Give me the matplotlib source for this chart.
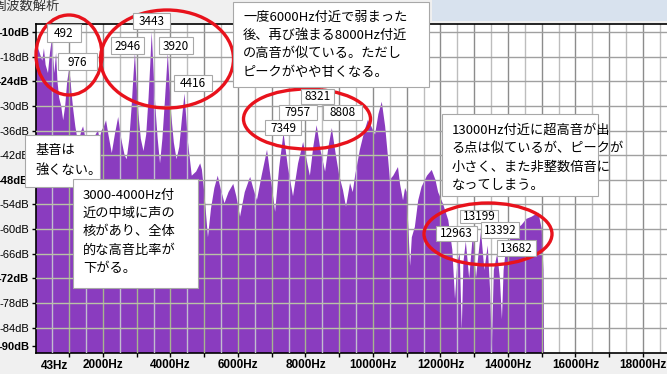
"""Frequency analysis screenshot (Audacity style) with Japanese annotations."""
import numpy as np
import matplotlib
matplotlib.use("Agg")
import matplotlib.pyplot as plt
from matplotlib.patches import Rectangle, Ellipse, Polygon

W, H = 667, 374
JP = ["Noto Sans CJK JP", "DejaVu Sans"]
PURPLE = "#8a3cbf"
RED = "#e8121c"

# spectrum outline (Hz, dB)
freq = [0, 40, 120, 200, 250, 300, 370, 430, 480, 520, 560, 610, 650, 700, 760, 820,
        880, 940, 1000, 1040, 1070, 1120, 1180, 1220, 1300, 1360, 1410, 1460, 1530,
        1610, 1700, 1780, 1850, 1900, 1960, 2030, 2090, 2160, 2260, 2350, 2450, 2540,
        2640, 2700, 2780, 2850, 2900, 2946, 2990, 3050, 3120, 3200, 3280, 3350, 3400,
        3443, 3490, 3550, 3620, 3690, 3760, 3840, 3885, 3920, 3960, 4020, 4100, 4180,
        4260, 4340, 4390, 4416, 4450, 4520, 4630, 4760, 4880, 4930, 5000, 5110, 5200,
        5300, 5400, 5480, 5600, 5720, 5860, 5950, 6060, 6200, 6360, 6450, 6560, 6700,
        6860, 6960, 7100, 7220, 7349, 7480, 7630, 7780, 7930, 8030, 8130, 8230, 8330,
        8450, 8580, 8680, 8780, 8900, 9000, 9110, 9200, 9320, 9400, 9470, 9610, 9750,
        9850, 9950, 10060, 10160, 10260, 10360, 10450, 10500, 10600, 10740, 10800,
        10890, 10950, 11000, 11100, 11150, 11240, 11340, 11440, 11600, 11740, 11850,
        11930, 12080, 12230, 12350, 12430, 12500, 12570, 12630, 12680, 12750, 12850,
        12963, 13050, 13200, 13300, 13400, 13470, 13520, 13580, 13682, 13760, 13820,
        13870, 13950, 14100, 14250, 14400, 14550, 14700, 14900, 15000, 15050, 15070]
level = [-15.5, -15, -17, -19, -16, -20, -22, -17, -14, -18, -22, -17, -24, -28, -30,
         -33.5, -30, -24, -21, -24, -27, -31, -35, -37, -38, -36, -35, -37, -39, -38.5,
         -39, -37, -36, -38, -36, -35, -33.5, -37, -41.5, -37, -32.7, -38, -42, -43,
         -38, -30, -23, -17, -24, -32, -38, -41, -37, -28, -20, -12, -20, -30, -38, -44,
         -38, -28, -22, -17, -23, -32, -39, -43, -40, -33, -29, -27, -31, -39, -47, -46,
         -44, -45.5, -51, -62, -55, -50, -47, -50, -53.7, -51, -49, -52, -57, -51,
         -47.3, -50, -53, -47, -40.7, -47, -55.8, -45, -36.6, -45, -52, -44, -38.8,
         -43, -47, -40, -34.7, -41, -46, -40, -35.4, -42, -47, -50.5, -54.6, -48.8,
         -51, -47, -40.7, -36, -33.4, -35, -37, -32, -29, -35, -43, -48, -47, -44.9,
         -49, -53, -50, -51, -69, -62, -59.5, -53, -49.7, -47, -45.6, -48, -51, -54,
         -57.8, -65, -77, -68, -65.9, -84.6, -68, -63, -72, -61, -72, -60.5, -70, -64,
         -75, -89.5, -70, -66, -72, -82, -70, -64, -62, -60, -59, -57.5, -57, -56, -60,
         -70, -91]

y_ticks = [-12, -18, -24, -30, -36, -42, -48, -54, -60, -66, -72, -78, -84, -88.4]
y_labels = ["-10dB", "-18dB", "-24dB", "-30dB", "-36dB", "-42dB", "-48dB", "-54dB",
            "-60dB", "-66dB", "-72dB", "-78dB", "-84dB", "-90dB"]
y_bold = ["-10dB", "-24dB", "-48dB", "-72dB", "-90dB"]
x_ticks = list(range(1000, 18001, 1000))
x_labels = [f"{v}Hz" if v % 2000 == 0 else "" for v in x_ticks]
x_first_label = "43Hz"

peak_labels = ["492", "976", "2946", "3443", "3920", "4416", "8321", "7349", "7957",
               "8808", "13199", "12963", "13392", "13682"]
peak_boxes = [(47, 24, 81, 42), (58, 53, 97, 70), (111, 37, 144, 54), (133, 13, 170, 29),
              (159, 37, 193, 54), (174, 75, 212, 91), (301, 89, 334, 104),
              (265, 120, 301, 135), (279, 105, 317, 120), (323, 105, 362, 120),
              (460, 210, 498, 223), (436, 226, 477, 241), (481, 222, 519, 238),
              (497, 240, 536, 256)]

notes = [
    ["基音は", "強くない。"],
    ["3000-4000Hz付", "近の中域に声の", "核があり、全体", "的な高音比率が", "下がる。"],
    ["一度6000Hz付近で弱まった", "後、再び強まる8000Hz付近", "の高音が似ている。ただし",
     "ピークがやや甘くなる。"],
    ["13000Hz付近に超高音が出", "る点は似ているが、ピークが", "小さく、また非整数倍音に",
     "なってしまう。"],
]
note_boxes = [(25, 135, 100, 187), (73, 179, 198, 288), (233, 2, 429, 87), (442, 114, 598, 196)]
note_first_line = [150, 195, 17, 130]
note_step = [20, 18.4, 18.4, 18.6]

circles = [(69, 55, 66, 80), (167, 59, 133, 98), (307, 119, 127, 60), (488, 234, 128, 62)]


def fx(px):
    return px / W


def fy(py):
    return 1 - py / H


fig = plt.figure(figsize=(W / 100, H / 100), dpi=100, facecolor="#f0f0f0")
fig.add_artist(Rectangle((fx(432), fy(21)), (W - 432) / W, 21 / H, transform=fig.transFigure,
                         fc="#d8e2ee", ec="none", zorder=0))
fig.text(fx(-6), fy(6), "周波数解析", fontsize=9.5, family=JP, color="#333333",
         ha="left", va="center")

ax = fig.add_axes([fx(35.5), fy(353), (W - 35.5) / W, (353 - 24) / H])
ax.set_facecolor("white")
ax.set_xlim(0, (W - 35.5) / 33.75 * 1000)
ax.set_ylim(-90.2, -10.05)

# grid under the spectrum
for x in np.arange(500, 18600, 500):
    ax.axvline(x, color="#8c8c8c" if x % 1000 == 0 else "#bdbdbd", lw=1, zorder=1)
for y in y_ticks[:-1]:
    ax.axhline(y, color="#a0a0a0", lw=1, zorder=1)

verts = [(0, -100)] + list(zip(freq, level)) + [(freq[-1], -100)]
spec = Polygon(verts, closed=True, fc=PURPLE, ec="none", zorder=2)
ax.add_patch(spec)

# grid lines seen through the purple fill
for x in np.arange(500, 18600, 500):
    ln = ax.axvline(x, color="#a6b58f" if x % 1000 == 0 else "#c2bccf", lw=1, zorder=3)
    ln.set_clip_path(spec)
for y in y_ticks[:-1]:
    ln = ax.axhline(y, color="#b9c2a6", lw=1, zorder=3)
    ln.set_clip_path(spec)

for s in ["top", "left", "bottom"]:
    ax.spines[s].set_color("black")
    ax.spines[s].set_linewidth(1.2)
ax.spines["right"].set_visible(False)

ax.set_yticks(y_ticks)
ax.set_yticklabels(y_labels, family="Liberation Sans", fontsize=8)
for t in ax.get_yticklabels():
    if t.get_text() in y_bold:
        t.set_fontweight("bold")
ax.set_xticks(x_ticks)
ax.set_xticklabels(x_labels, family="Liberation Sans", fontsize=8.5, fontweight="bold")
ax.tick_params(axis="both", length=3, width=1, pad=1.5, color="black")
# first frequency label sits on its own, left of the 1000 Hz tick
ax.text(570, -13 / 329, x_first_label, family="Liberation Sans", fontsize=8.5,
        fontweight="bold", ha="center", va="center", transform=ax.get_xaxis_transform())

for cx, cy, w, h in circles:
    fig.add_artist(Ellipse((fx(cx), fy(cy)), w / W, h / H, transform=fig.transFigure,
                           fill=False, ec=RED, lw=2.4, zorder=4))

for lab, (x0, y0, x1, y1) in zip(peak_labels, peak_boxes):
    fig.add_artist(Rectangle((fx(x0), fy(y1)), (x1 - x0) / W, (y1 - y0) / H,
                             transform=fig.transFigure, fc="white", ec="#a8a8a8",
                             lw=0.8, zorder=5))
    fig.text(fx((x0 + x1) / 2), fy((y0 + y1) / 2 + 0.5), lab, fontsize=8.5, family=JP,
             ha="center", va="center", zorder=6)

for lines, (x0, y0, x1, y1), first, step in zip(notes, note_boxes, note_first_line, note_step):
    fig.add_artist(Rectangle((fx(x0), fy(y1)), (x1 - x0) / W, (y1 - y0) / H,
                             transform=fig.transFigure, fc="white", ec="#a8a8a8",
                             lw=0.8, zorder=7))
    for i, s in enumerate(lines):
        fig.text(fx(x0 + 10), fy(first + i * step), s, fontsize=9.5, family=JP,
                 ha="left", va="center", zorder=8)

fig.savefig("out.png", dpi=100, facecolor=fig.get_facecolor())
